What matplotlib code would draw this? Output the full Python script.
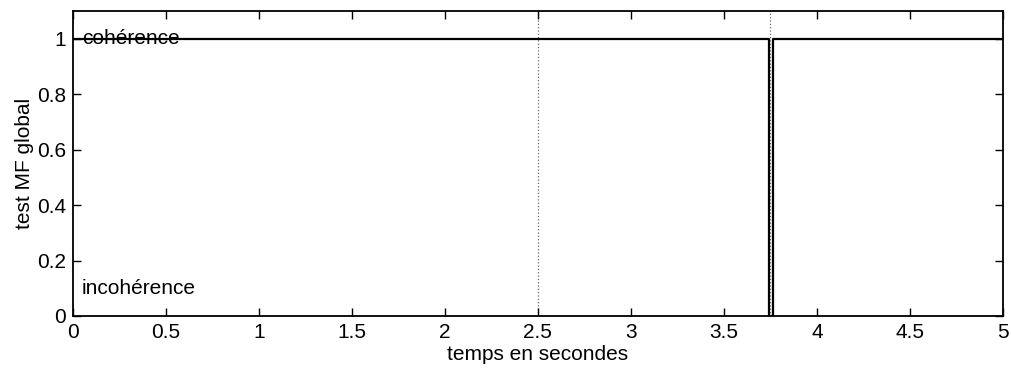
import matplotlib
matplotlib.use("Agg")
import matplotlib.pyplot as plt
import numpy as np

plt.rcParams['font.family'] = ['Liberation Sans', 'DejaVu Sans']

# signal du test MF global (temps en s, valeur)
t_signal = [0.0, 3.74, 3.74, 3.765, 3.765, 5.0]
test_mf = [1, 1, 0, 0, 1, 1]
# instants marqués par les traits pointillés
t_marques = [2.5, 3.75]

x_ticks = np.arange(0, 5.01, 0.5)
x_labels = ["0", "0.5", "1", "1.5", "2", "2.5", "3", "3.5", "4", "4.5", "5"]
y_ticks = [0, 0.2, 0.4, 0.6, 0.8, 1]
y_labels = ["0", "0.2", "0.4", "0.6", "0.8", "1"]

fs = 15

fig = plt.figure(figsize=(10.11, 3.73), dpi=100)
ax = fig.add_axes([0.072, 0.153, 0.920, 0.817])

for t in t_marques:
    ax.axvline(t, color='#666666', linestyle=':', linewidth=0.9, zorder=1)

ax.plot(t_signal, test_mf, color='black', linewidth=1.6, zorder=3)

ax.text(0.05, 1.0, "cohérence", fontsize=fs, va='center', ha='left')
ax.text(0.05, 0.1, "incohérence", fontsize=fs, va='center', ha='left')

ax.set_xlim(0, 5)
ax.set_ylim(0, 1.1)
ax.set_xticks(x_ticks)
ax.set_xticklabels(x_labels)
ax.set_yticks(y_ticks)
ax.set_yticklabels(y_labels)
ax.tick_params(direction='in', top=True, right=True, labelsize=fs, length=6, width=1)
ax.tick_params(axis='x', pad=5)
ax.tick_params(axis='y', pad=5)
for s in ax.spines.values():
    s.set_linewidth(1.3)

ax.set_xlabel("temps en secondes", fontsize=fs, labelpad=2)
ax.set_ylabel("test MF global", fontsize=fs, labelpad=2)

fig.savefig("out.png", dpi=100)
